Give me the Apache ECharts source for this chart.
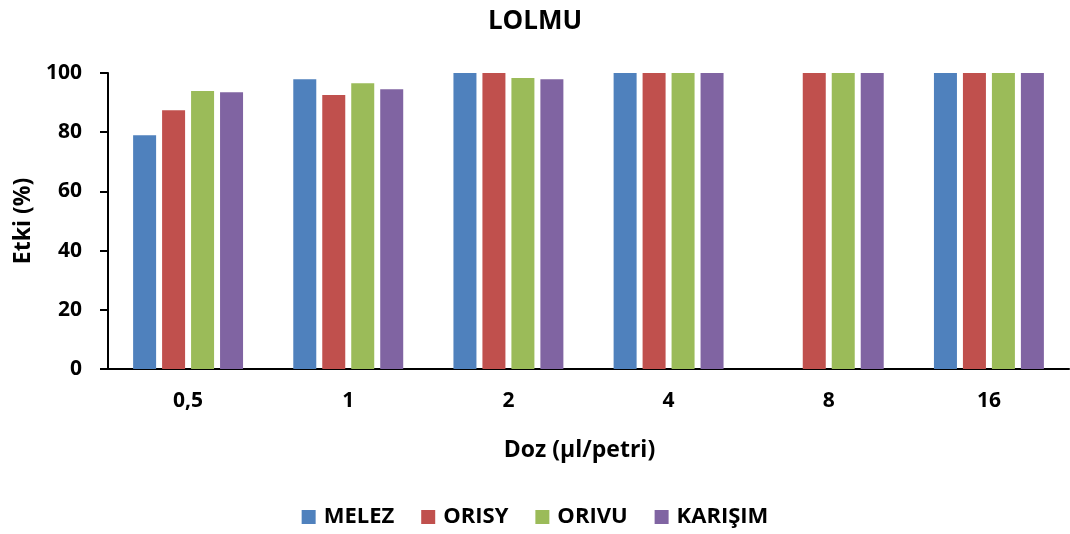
<!DOCTYPE html>
<html>
<head>
<meta charset="utf-8">
<script src="https://cdn.jsdelivr.net/npm/echarts@6/dist/echarts.min.js"></script>
<style>
  html, body { margin: 0; padding: 0; background: #fff; }
  #chart { width: 1070px; height: 534px; }
</style>
</head>
<body>
<div id="chart"></div>
<script>
// doses on the x axis
const categories = ['0,5', '1', '2', '4', '8', '16'];
const melez   = [79, 97.9, 100, 100, null, 100];
const orisy   = [87.4, 92.6, 100, 100, 100, 100];
const orivu   = [93.9, 96.5, 98.3, 100, 100, 100];
const karisim = [93.5, 94.5, 97.9, 100, 100, 100];
const seriesNames = ['MELEZ', 'ORISY', 'ORIVU', 'KARIŞIM'];
const colors = ['#4F81BD', '#C0504D', '#9BBB59', '#8064A2'];

const font = 'Open Sans, Liberation Sans, sans-serif';
const chart = echarts.init(document.getElementById('chart'));

const mk = (name, data, i) => ({
  name: name,
  type: 'bar',
  data: data,
  barWidth: 23,
  barGap: '26%',
  itemStyle: { color: colors[i] }
});

chart.setOption({
  animation: false,
  color: colors,
  title: {
    text: 'LOLMU',
    left: 'center',
    top: 4,
    textStyle: { fontFamily: font, fontWeight: 'bold', fontSize: 26, color: '#000' }
  },
  legend: {
    bottom: 1,
    left: 'center',
    itemWidth: 14,
    itemHeight: 14,
    itemGap: 27,
    icon: 'rect',
    textStyle: { fontFamily: font, fontWeight: 'bold', fontSize: 22, color: '#000', padding: [0, 0, 0, 3] },
    data: seriesNames
  },
  grid: { left: 108, right: 1, top: 73, bottom: 165, containLabel: false, outerBoundsMode: 'none' },
  xAxis: {
    type: 'category',
    data: categories,
    name: 'Doz (µl/petri)',
    nameLocation: 'middle',
    nameGap: 70,
    nameTextStyle: { fontFamily: font, fontWeight: 'bold', fontSize: 23, color: '#000', padding: [0, 18, 0, 0] },
    axisLine: { onZero: false, lineStyle: { color: '#000', width: 2 } },
    axisTick: { show: false },
    axisLabel: { margin: 22, fontFamily: font, fontWeight: 'bold', fontSize: 21, color: '#000' }
  },
  yAxis: {
    type: 'value',
    position: 'left',
    min: 0,
    max: 100,
    interval: 20,
    name: 'Etki (%)',
    nameLocation: 'middle',
    nameRotate: 90,
    nameGap: 73,
    nameTextStyle: { fontFamily: font, fontWeight: 'bold', fontSize: 23, color: '#000' },
    axisLine: { show: true, onZero: false, lineStyle: { color: '#000', width: 2 } },
    axisTick: { show: true, inside: false, length: 8, lineStyle: { color: '#000', width: 2 } },
    splitLine: { show: false },
    axisLabel: { margin: 26, fontFamily: font, fontWeight: 'bold', fontSize: 21, color: '#000' }
  },
  series: [
    mk(seriesNames[0], melez, 0),
    mk(seriesNames[1], orisy, 1),
    mk(seriesNames[2], orivu, 2),
    mk(seriesNames[3], karisim, 3)
  ]
});
</script>
</body>
</html>
